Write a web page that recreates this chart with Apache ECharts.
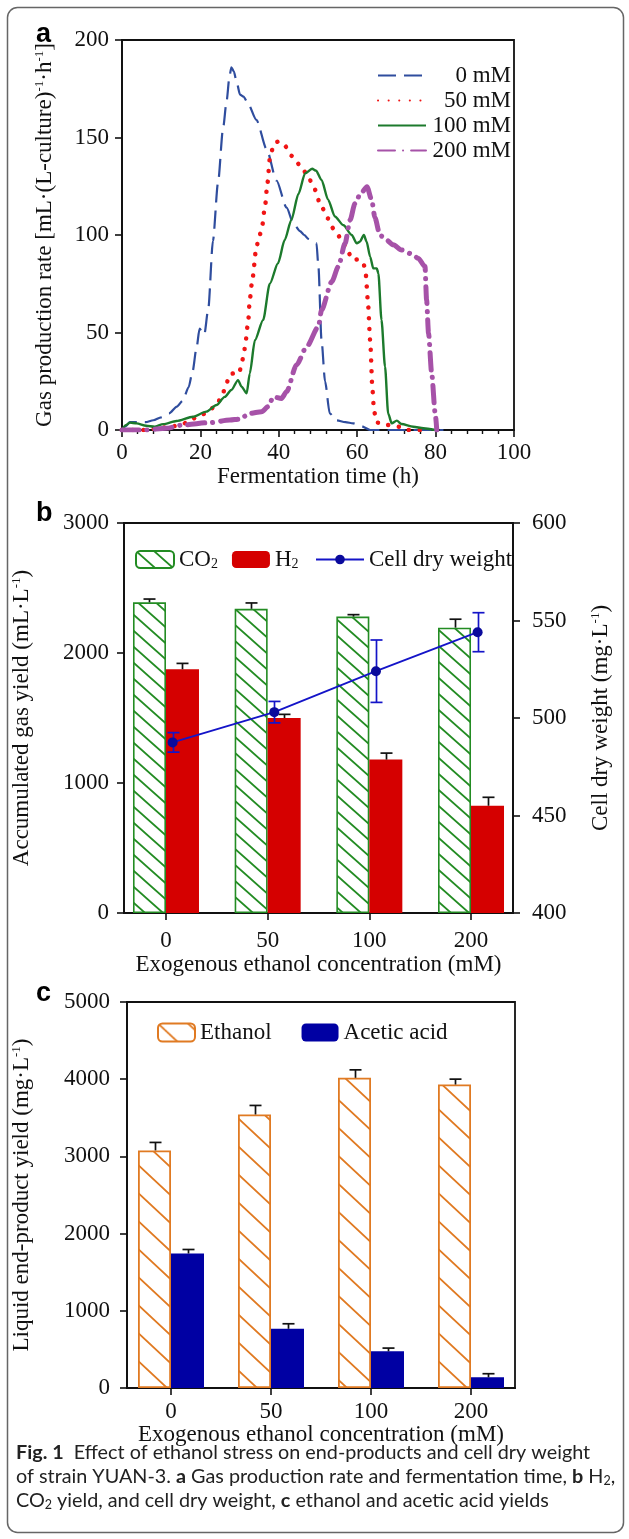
<!DOCTYPE html>
<html>
<head>
<meta charset="utf-8">
<script src="https://cdn.jsdelivr.net/npm/echarts@6/dist/echarts.min.js"></script>
<style>
  html, body { margin: 0; padding: 0; background: #fff; }
  #chart { width: 629px; height: 1539px; }
</style>
</head>
<body>
<div id="chart"></div>
<script>
// ---- panel a: gas production rate vs fermentation time ----
var time0 = [0, 1, 2, 4, 6, 8, 10, 12, 14, 15.5, 17, 18, 19, 19.8, 20.5, 21, 22, 23.2, 24.5, 25.8, 26.7, 27.4, 27.9, 28.5, 29.3, 30.1, 31, 32, 34.3, 36.9, 39.4, 42, 43.7, 45.4, 46.5, 47.5, 48.8, 49.6, 50.1, 50.9, 51.8, 53, 54.7, 57, 59, 61, 63.3, 70, 76, 82];
var rate0 = [0, 2, 4, 4, 4, 5, 6.5, 8.5, 12, 15, 22, 30, 42, 52, 50, 49, 62, 97, 127, 155, 169, 181, 186, 184, 178, 172, 171, 168, 159, 144, 128, 114, 106, 102, 100, 98, 97, 96, 84, 46, 25, 8.5, 5, 4, 3.4, 2, 0, 0, 0, 0];
var time50 = [0, 3, 6, 9.6, 12.6, 15.2, 17.3, 19, 21.4, 24.1, 25.6, 26.5, 27.5, 28.5, 29.9, 30.5, 31.1, 31.5, 32.2, 32.6, 33.3, 34.3, 35, 35.7, 36.5, 37.1, 37.7, 38.4, 39.1, 40, 41.4, 43.4, 45.6, 47.5, 48.8, 50.9, 52.5, 53.9, 56, 57.5, 58.8, 60.5, 61.7, 62.2, 62.7, 63.3, 63.9, 64.3, 65.1, 67.5, 70.5, 73, 77];
var rate50 = [0, 0, 0, 1, 1.7, 3, 4.3, 6.8, 8.5, 12.8, 18, 23, 28.7, 29, 29, 34, 39, 45, 56, 67, 78, 94, 99, 104, 115, 126.5, 139, 144, 147.5, 148, 146, 140.5, 135.4, 130, 124.8, 114.5, 108.5, 103.4, 98, 92, 87.2, 87.5, 84.6, 79.5, 66.7, 46, 20.5, 9.4, 3.8, 2.6, 1.7, 0, 0];
var time100 = [0, 1, 2, 3.7, 6.2, 8.3, 10.5, 13.9, 18.1, 21.5, 24.1, 26.2, 27.9, 29.6, 30.5, 31.8, 32.6, 33.9, 36, 37.7, 39.8, 41.5, 43.2, 45, 46.7, 48.5, 49.5, 50.9, 52.6, 54.3, 56.5, 58.6, 59.9, 60.7, 61.7, 62.4, 63.3, 64.1, 65, 65.4, 66.2, 67.1, 67.9, 68.8, 70.1, 71.3, 74.3, 76.9, 79.9];
var rate100 = [0, 2.5, 3.8, 3.4, 2.2, 1.7, 3, 4.6, 6.8, 9.4, 12.8, 17, 20.5, 25.6, 22.2, 18.8, 29, 46, 56.4, 75, 85.5, 97.4, 107.7, 121, 131.6, 134, 133, 128.2, 118, 109.5, 105, 100, 95.7, 96.6, 100, 96.6, 88.9, 82.9, 82.9, 80.3, 56.4, 32.5, 8.5, 3.4, 4.8, 3.1, 1.7, 0.9, 0];
var time200 = [0, 5.8, 11.3, 15.6, 22.4, 27.5, 30, 32.6, 35.6, 37.3, 38.6, 40.7, 42, 44.5, 47.1, 50.1, 50.9, 53.5, 55.2, 56.9, 58.2, 59.4, 60.8, 62.5, 63.7, 64.5, 65.8, 67.1, 69.2, 71.3, 73.9, 75.6, 77.3, 77.7, 78.2, 79, 79.9, 80.3];
var rate200 = [0, 0, 0.9, 2.6, 3.8, 5.1, 5.6, 8.5, 9.4, 12, 17, 16.2, 19.7, 33.3, 42.7, 53, 61.5, 76, 83.8, 95.7, 107.7, 116, 121, 124.8, 118, 109, 100, 98, 95, 92.3, 90.3, 88, 83.8, 66.7, 49.6, 29, 8.5, 0];

// ---- panel b: gas yield and cell dry weight ----
var concLabels = ['0', '50', '100', '200'];
var co2Yield = [2390, 2340, 2280, 2195];
var co2Err = [25, 45, 15, 65];
var h2Yield = [1875, 1500, 1180, 825];
var h2Err = [45, 28, 50, 65];
var cellDryWeight = [487.5, 503, 524, 544];
var cellDryWeightErr = [5, 5.5, 16, 10];

// ---- panel c: liquid end-products ----
var ethanolYield = [3078, 3543, 4018, 3931];
var ethanolErr = [103, 117, 103, 70];
var aceticYield = [1742, 767, 475, 138];
var aceticErr = [52, 65, 42, 47];

var serif = '"Liberation Serif", "Times New Roman", serif';
var sans = '"Liberation Sans", Arial, sans-serif';
var capFont = 'Lato';
var capSize = 19.8;
var ink = '#111';
var fs = 23;

function pairs(xs, ys) {
    return xs.map(function (x, i) { return [x, ys[i]]; });
}

// diagonal "\" hatch used as a bar fill
function hatch(color, w, h, lw) {
    var c = document.createElement('canvas');
    c.width = w; c.height = h;
    var g = c.getContext('2d');
    g.strokeStyle = color;
    g.lineWidth = lw;
    g.beginPath();
    for (var k = -1; k <= 1; k++) {
        g.moveTo(-w, -h + k * h);
        g.lineTo(2 * w, 2 * h + k * h);
    }
    g.stroke();
    return { image: c, repeat: 'repeat' };
}

function errorBars(xi, yi, vals, errs, dx, color, twoSided, shift) {
    return {
        type: 'custom', xAxisIndex: xi, yAxisIndex: yi, z: 6, silent: true,
        data: vals.map(function (v, i) { return [i + (shift || 0), v, errs[i]]; }),
        renderItem: function (params, api) {
            var x = api.value(0), v = api.value(1), e = api.value(2);
            var hi = api.coord([x, v + e]);
            var lo = api.coord([x, twoSided ? v - e : v]);
            var px = Math.round(hi[0] + dx) + 0.5;
            var st = { stroke: color, lineWidth: 1.7 };
            var kids = [
                { type: 'line', shape: { x1: px, y1: lo[1], x2: px, y2: hi[1] }, style: st },
                { type: 'line', shape: { x1: px - 6, y1: hi[1], x2: px + 6, y2: hi[1] }, style: st }
            ];
            if (twoSided) {
                kids.push({ type: 'line', shape: { x1: px - 6, y1: lo[1], x2: px + 6, y2: lo[1] }, style: st });
            }
            return { type: 'group', children: kids };
        }
    };
}

var axisLine = { onZero: false, lineStyle: { color: ink, width: 1.8 } };
var axisTick = { length: 7, lineStyle: { color: ink, width: 1.6 } };
var plain = function (v) { return String(v); };
var label = function (margin) {
    return { color: ink, fontFamily: serif, fontSize: fs, margin: margin, formatter: plain };
};
var nameStyle = {
    color: ink, fontFamily: serif, fontSize: fs,
    rich: { sup: { fontFamily: serif, fontSize: 13, verticalAlign: 'top', color: ink } }
};
var catAxisLabel = function (margin) {
    return {
        color: ink, fontFamily: serif, fontSize: fs, margin: margin,
        customValues: [0, 1, 2, 3],
        formatter: function (v) { return concLabels[Math.round(v)]; }
    };
};
var capRich = {
    b: { fontFamily: capFont, fontSize: capSize, fontWeight: 'bold', fill: '#222' },
    s: { fontFamily: capFont, fontSize: 12.5, verticalAlign: 'bottom', fill: '#222' }
};

var chart = echarts.init(document.getElementById('chart'));

chart.setOption({
    animation: false,
    backgroundColor: '#fff',
    textStyle: { fontFamily: serif },
    grid: [
        { left: 122, top: 40, width: 392, height: 390, show: true, borderColor: ink, borderWidth: 1.8 },
        { left: 124, top: 523, width: 389, height: 390, show: true, borderColor: ink, borderWidth: 1.8 },
        { left: 127, top: 1002, width: 388, height: 386, show: true, borderColor: ink, borderWidth: 1.8 }
    ],
    xAxis: [
        {
            gridIndex: 0, type: 'value', min: 0, max: 100, interval: 20,
            name: 'Fermentation time (h)', nameLocation: 'middle', nameGap: 35, nameTextStyle: nameStyle,
            axisLine: axisLine, axisTick: axisTick, axisLabel: label(11),
            minorTick: { show: true, splitNumber: 5, length: 4, lineStyle: { color: ink, width: 1.4 } },
            splitLine: { show: false }
        },
        {
            gridIndex: 1, type: 'value', min: -0.413, max: 3.413,
            name: 'Exogenous ethanol concentration (mM)', nameLocation: 'middle', nameGap: 40, nameTextStyle: nameStyle,
            axisLine: axisLine,
            axisTick: { length: 7, customValues: [0, 1, 2, 3], lineStyle: { color: ink, width: 1.6 } },
            axisLabel: catAxisLabel(16),
            splitLine: { show: false }
        },
        {
            gridIndex: 2, type: 'value', min: -0.44, max: 3.44,
            name: 'Exogenous ethanol concentration (mM)', nameLocation: 'middle', nameGap: 32, nameTextStyle: nameStyle,
            axisLine: axisLine,
            axisTick: { length: 7, customValues: [0, 1, 2, 3], lineStyle: { color: ink, width: 1.6 } },
            axisLabel: catAxisLabel(12),
            splitLine: { show: false }
        }
    ],
    yAxis: [
        {
            gridIndex: 0, type: 'value', min: 0, max: 200, interval: 50,
            name: 'Gas production rate [mL·(L-culture){sup|-1}·h{sup|-1}]',
            nameLocation: 'middle', nameRotate: 90, nameGap: 66, nameTextStyle: nameStyle,
            axisLine: axisLine, axisTick: axisTick, axisLabel: label(13),
            splitLine: { show: false }
        },
        {
            gridIndex: 1, type: 'value', min: 0, max: 3000, interval: 1000,
            name: 'Accumulated gas yield (mL·L{sup|-1})',
            nameLocation: 'middle', nameRotate: 90, nameGap: 91, nameTextStyle: nameStyle,
            axisLine: axisLine, axisTick: axisTick, axisLabel: label(15),
            splitLine: { show: false }
        },
        {
            gridIndex: 1, type: 'value', position: 'right', min: 400, max: 600, interval: 50,
            name: 'Cell dry weight (mg·L{sup|-1})',
            nameLocation: 'middle', nameRotate: 90, nameGap: 76, nameTextStyle: nameStyle,
            axisLine: axisLine, axisTick: axisTick, axisLabel: label(19),
            splitLine: { show: false }
        },
        {
            gridIndex: 2, type: 'value', min: 0, max: 5000, interval: 1000,
            name: 'Liquid end-product yield (mg·L{sup|-1})',
            nameLocation: 'middle', nameRotate: 90, nameGap: 94, nameTextStyle: nameStyle,
            axisLine: axisLine, axisTick: axisTick, axisLabel: label(17),
            splitLine: { show: false }
        }
    ],
    legend: [
        {
            data: ['0 mM', '50 mM', '100 mM', '200 mM'], orient: 'vertical',
            left: 372, top: 59, itemWidth: 48, itemHeight: 14, itemGap: 2, selectedMode: false,
            itemStyle: { opacity: 0 },
            formatter: function (n) { return '{r|' + n + '}'; },
            textStyle: { rich: { r: { width: 80, align: 'right', fontFamily: serif, fontSize: fs, lineHeight: 23, color: ink } } }
        },
        {
            data: ['CO2', 'H2'], left: 130, top: 543, itemWidth: 38, itemHeight: 17, itemGap: 14, selectedMode: false,
            formatter: function (n) { return n.slice(0, -1) + '{sub|2}'; },
            textStyle: {
                color: ink, fontFamily: serif, fontSize: fs,
                rich: { sub: { fontFamily: serif, fontSize: 14, verticalAlign: 'bottom', color: ink } }
            }
        },
        {
            data: ['Cell dry weight'], left: 310, top: 543, itemWidth: 48, itemHeight: 12, selectedMode: false,
            textStyle: { color: ink, fontFamily: serif, fontSize: fs }
        },
        {
            data: ['Ethanol', 'Acetic acid'], left: 152, top: 1016, itemWidth: 37, itemHeight: 18, itemGap: 30, selectedMode: false,
            textStyle: { color: ink, fontFamily: serif, fontSize: fs }
        }
    ],
    series: [
        {
            name: '0 mM', type: 'line', xAxisIndex: 0, yAxisIndex: 0, data: pairs(time0, rate0),
            symbol: 'none', smooth: 0.25, smoothMonotone: 'x', color: '#2f4d9e',
            lineStyle: { color: '#2f4d9e', width: 2.2, type: [18, 8] }
        },
        {
            name: '50 mM', type: 'line', xAxisIndex: 0, yAxisIndex: 0, data: pairs(time50, rate50),
            symbol: 'none', smooth: 0.25, smoothMonotone: 'x', color: '#f01515',
            lineStyle: { color: '#f01515', width: 4.5, type: [0.1, 10.5], cap: 'round' }
        },
        {
            name: '100 mM', type: 'line', xAxisIndex: 0, yAxisIndex: 0, data: pairs(time100, rate100),
            symbol: 'none', smooth: 0.25, smoothMonotone: 'x', color: '#1c7a2c',
            lineStyle: { color: '#1c7a2c', width: 2.4 }
        },
        {
            name: '200 mM', type: 'line', xAxisIndex: 0, yAxisIndex: 0, data: pairs(time200, rate200),
            symbol: 'none', smooth: 0.25, smoothMonotone: 'x', color: '#a652a8',
            lineStyle: { color: '#a652a8', width: 5, type: [17, 8, 0.1, 8], cap: 'round' }
        },
        {
            name: 'CO2', type: 'bar', xAxisIndex: 1, yAxisIndex: 1, barWidth: 33, barGap: '0%',
            data: co2Yield.map(function (v, i) { return [i, v]; }),
            itemStyle: { color: hatch('#238c23', 18, 16, 1.8), borderColor: '#238c23', borderWidth: 1.6 }
        },
        {
            name: 'H2', type: 'bar', xAxisIndex: 1, yAxisIndex: 1, barWidth: 33, barGap: '0%',
            data: h2Yield.map(function (v, i) { return [i, v]; }),
            itemStyle: { color: '#d50000' }
        },
        errorBars(1, 1, co2Yield, co2Err, -16.5, ink, false),
        errorBars(1, 1, h2Yield, h2Err, 16.5, ink, false),
        {
            name: 'Cell dry weight', type: 'line', xAxisIndex: 1, yAxisIndex: 2, z: 7,
            data: cellDryWeight.map(function (v, i) { return [i + 0.065, v]; }),
            symbol: 'circle', symbolSize: 10, color: '#0a0a9c',
            lineStyle: { color: '#1414c8', width: 1.8 }
        },
        errorBars(1, 2, cellDryWeight, cellDryWeightErr, 0, '#1414c8', true, 0.065),
        {
            name: 'Ethanol', type: 'bar', xAxisIndex: 2, yAxisIndex: 3, barWidth: 33, barGap: '0%',
            data: ethanolYield.map(function (v, i) { return [i, v]; }),
            itemStyle: { color: hatch('#e07a22', 30, 28, 1.8), borderColor: '#e07a22', borderWidth: 1.8 }
        },
        {
            name: 'Acetic acid', type: 'bar', xAxisIndex: 2, yAxisIndex: 3, barWidth: 33, barGap: '0%',
            data: aceticYield.map(function (v, i) { return [i, v]; }),
            itemStyle: { color: '#0000a3' }
        },
        errorBars(2, 3, ethanolYield, ethanolErr, -16.5, ink, false),
        errorBars(2, 3, aceticYield, aceticErr, 16.5, ink, false)
    ],
    graphic: [
        {
            type: 'rect', silent: true,
            shape: { x: 7.5, y: 7.5, width: 616, height: 1525, r: 10 },
            style: { fill: 'none', stroke: '#666', lineWidth: 1.5 }
        },
        { type: 'text', style: { x: 36, y: 34.6, verticalAlign: 'middle', text: 'a', font: 'bold 27px ' + sans, fill: '#000' } },
        { type: 'text', style: { x: 36, y: 513.6, verticalAlign: 'middle', text: 'b', font: 'bold 27px ' + sans, fill: '#000' } },
        { type: 'text', style: { x: 36, y: 993.6, verticalAlign: 'middle', text: 'c', font: 'bold 27px ' + sans, fill: '#000' } },
        {
            type: 'text',
            style: {
                x: 16, y: 1453, verticalAlign: 'middle', fill: '#222',
                fontFamily: capFont, fontSize: capSize, rich: capRich,
                text: '{b|Fig. 1}  Effect of ethanol stress on end-products and cell dry weight'
            }
        },
        {
            type: 'text',
            style: {
                x: 16, y: 1477, verticalAlign: 'middle', fill: '#222',
                fontFamily: capFont, fontSize: capSize, rich: capRich,
                text: 'of strain YUAN-3. {b|a} Gas production rate and fermentation time, {b|b} H{s|2},'
            }
        },
        {
            type: 'text',
            style: {
                x: 16, y: 1501, verticalAlign: 'middle', fill: '#222',
                fontFamily: capFont, fontSize: capSize, rich: capRich,
                text: 'CO{s|2} yield, and cell dry weight, {b|c} ethanol and acetic acid yields'
            }
        }
    ]
});
</script>
</body>
</html>
